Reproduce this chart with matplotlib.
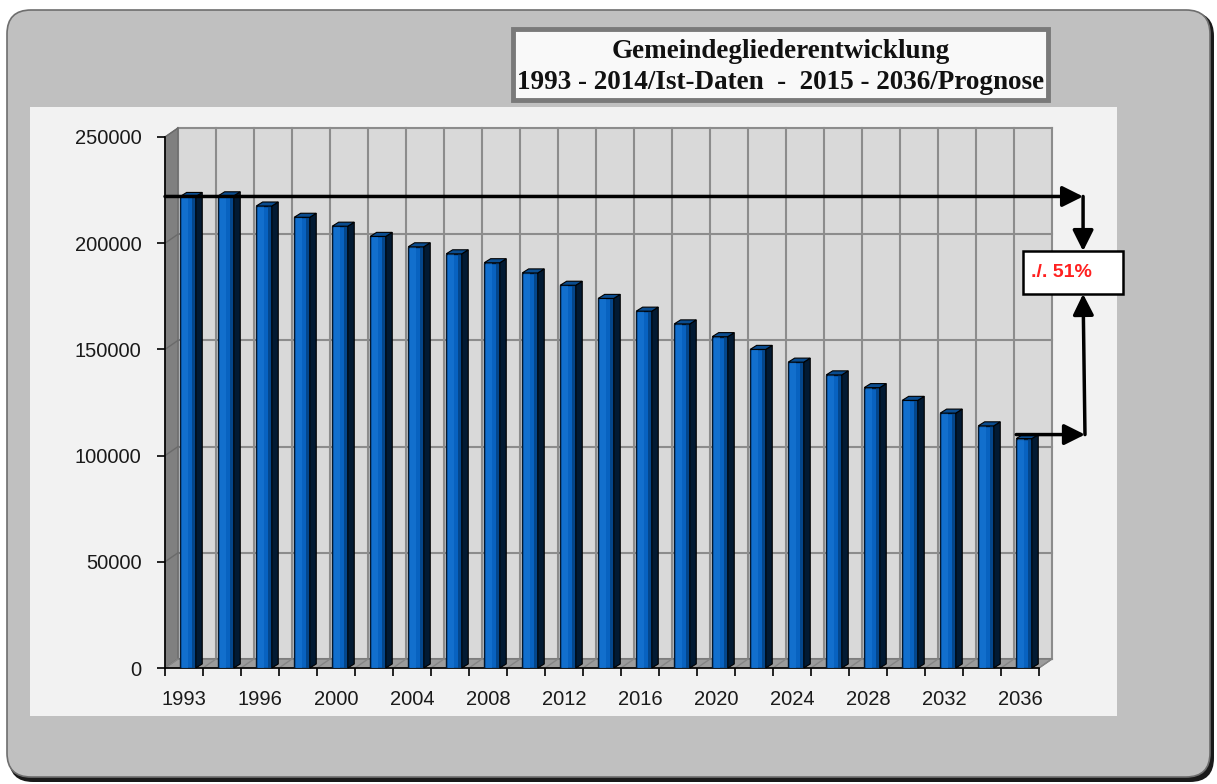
import numpy as np
import matplotlib.pyplot as plt
import matplotlib.transforms as mtransforms
from matplotlib.patches import Polygon, Rectangle, FancyBboxPatch

# Daten (Gemeindeglieder je Jahr)
years = [1993, 1994, 1996, 1998, 2000, 2002, 2004, 2006, 2008, 2010, 2012, 2014,
         2016, 2018, 2020, 2022, 2024, 2026, 2028, 2030, 2032, 2034, 2036]
members = [222000, 222300, 217500, 212200, 208000, 203200, 198300, 195000,
           190800, 186000, 180200, 174000, 168000, 162000, 156000, 150000,
           144000, 138000, 132000, 126000, 120000, 114000, 108000]
y_ticks = [0, 50000, 100000, 150000, 200000, 250000]
title_lines = ["Gemeindegliederentwicklung",
               "1993 - 2014/Ist-Daten  -  2015 - 2036/Prognose"]
change_label = "./. 51%"

W, H = 1217, 784
fig = plt.figure(figsize=(W / 100, H / 100), dpi=100)
fig.patch.set_facecolor("white")
ident = mtransforms.IdentityTransform()


def px_box(x, y, w, h):
    # Pixel-Rechteck (oben links) -> Display-Koordinaten
    return x, H - y - h, w, h


# Rahmen mit abgerundeten Ecken + Schatten
x0, y0, w0, h0 = px_box(9, 12, 1205, 770)
fig.add_artist(FancyBboxPatch((x0, y0), w0, h0, boxstyle="round,pad=0,rounding_size=24",
                              transform=ident, facecolor="#1a1a1a", edgecolor="none", zorder=-3))
x0, y0, w0, h0 = px_box(7, 10, 1203, 767)
fig.add_artist(FancyBboxPatch((x0, y0), w0, h0, boxstyle="round,pad=0,rounding_size=24",
                              transform=ident, facecolor="#c0c0c0", edgecolor="#6e6e6e",
                              linewidth=1.2, zorder=-2))
# heller Diagrammbereich
x0, y0, w0, h0 = px_box(30, 107, 1087, 609)
fig.add_artist(Rectangle((x0, y0), w0, h0, transform=ident, facecolor="#f2f2f2",
                         edgecolor="none", zorder=-1))

# Titelbox
x0, y0, w0, h0 = px_box(513, 29, 535, 71)
fig.add_artist(Rectangle((x0, y0), w0, h0, transform=ident, facecolor="#f9f9f9",
                         edgecolor="#7a7a7a", linewidth=3.5, zorder=3))
fig.text(781 / W, 1 - 67 / H, "\n".join(title_lines), ha="center", va="center",
         fontsize=19.5, fontweight="bold", family="Liberation Serif", color="#111111",
         linespacing=1.3, zorder=4)

ax = fig.add_axes([165 / W, (H - 668) / H, 874 / W, 531 / H])
ax.set_facecolor("none")
n = len(years)
ax.set_xlim(0, n)
ax.set_ylim(0, 250000)

# 3D-Tiefe (Wand) und Balkentiefe in Datenkoordinaten
dx, dy = 0.342, 4240
bdx, bdy = 0.17, 1900
top = y_ticks[-1]

# Rückwand
ax.add_patch(Rectangle((dx, dy), n, top, facecolor="#d9d9d9", edgecolor="#8c8c8c",
                       lw=1.2, zorder=0.5, clip_on=False))
for t in y_ticks:
    ax.plot([dx, n + dx], [t + dy, t + dy], color="#8c8c8c", lw=1.5, zorder=0.6, clip_on=False)
for i in range(n + 1):
    ax.plot([i + dx, i + dx], [dy, top + dy], color="#8c8c8c", lw=1.5, zorder=0.6, clip_on=False)

# Seitenwand links
ax.add_patch(Polygon([(0, 0), (dx, dy), (dx, top + dy), (0, top)], closed=True,
                     facecolor="#808080", edgecolor="#666666", lw=0.8, zorder=0.7, clip_on=False))
for t in y_ticks:
    ax.plot([0, dx], [t, t + dy], color="#6a6a6a", lw=1, zorder=0.75, clip_on=False)

# Boden
ax.add_patch(Polygon([(0, 0), (n, 0), (n + dx, dy), (dx, dy)], closed=True,
                     facecolor="#9c9c9c", edgecolor="#707070", lw=0.8, zorder=0.8, clip_on=False))
for i in range(n + 1):
    ax.plot([i, i + dx], [0, dy], color="#858585", lw=1, zorder=0.85, clip_on=False)

# Balken: Vorderseite über ax.bar, Seite und Deckel als Polygone
x_left = np.arange(n) + 0.40
bar_w = 0.41
bars = ax.bar(x_left, members, width=bar_w, align="edge", color="#0862c0",
              edgecolor="#05192e", linewidth=1, zorder=2)
for rect in bars:
    xl, w, v = rect.get_x(), rect.get_width(), rect.get_height()
    xr = xl + w
    ax.add_patch(Polygon([(xr, 0), (xr + bdx, bdy), (xr + bdx, v + bdy), (xr, v)], closed=True,
                         facecolor="#021a33", edgecolor="#000000", lw=0.8, zorder=2.1, clip_on=False))
    ax.add_patch(Polygon([(xl, v), (xr, v), (xr + bdx, v + bdy), (xl + bdx, v + bdy)], closed=True,
                         facecolor="#0a4c8f", edgecolor="#000000", lw=0.8, zorder=2.2, clip_on=False))
    # etwas Glanz auf der Vorderseite, dunkler zum rechten Rand
    ax.add_patch(Rectangle((xl + w * 0.12, 0), w * 0.4, v, facecolor="#1a78d6",
                           edgecolor="none", alpha=0.6, zorder=2.05))
    ax.add_patch(Rectangle((xl + w * 0.78, 0), w * 0.2, v, facecolor="#04407e",
                           edgecolor="none", alpha=0.8, zorder=2.05))

# Achsen
for s in ["top", "right"]:
    ax.spines[s].set_visible(False)
ax.spines["left"].set_color("black")
ax.spines["bottom"].set_color("black")
ax.spines["left"].set_linewidth(1.2)
ax.spines["bottom"].set_linewidth(1.2)
ax.spines["bottom"].set_zorder(1.9)

ax.set_yticks(y_ticks)
ax.set_yticklabels([str(t) for t in y_ticks])
ax.tick_params(axis="y", direction="out", length=6, width=1.2, pad=11,
               labelsize=14.5, labelcolor="#1a1a1a")
ax.set_xticks(np.arange(n + 1))
ax.set_xticklabels([""] * (n + 1))
ax.tick_params(axis="x", which="major", direction="out", length=6, width=1.2)
label_idx = list(range(0, n, 2))
ax.set_xticks([i + 0.5 for i in label_idx], minor=True)
ax.set_xticklabels([str(years[i]) for i in label_idx], minor=True)
ax.tick_params(axis="x", which="minor", length=0, pad=16, labelsize=14.5, labelcolor="#1a1a1a")
for lab in ax.get_xticklabels(minor=True) + ax.get_yticklabels():
    lab.set_family("Liberation Sans")

# Pfeile für den Rückgang
arrow_x = 24.16
v_first, v_last = members[0], members[-1]
box_lo, box_hi = 176100, 196300
arrow_kw = dict(arrowstyle="-|>,head_length=0.7,head_width=0.35", color="black", lw=2.5,
                shrinkA=0, shrinkB=0, mutation_scale=18)
ax.annotate("", xy=(arrow_x, v_first), xytext=(0, v_first), arrowprops=arrow_kw,
            annotation_clip=False, zorder=4)
ax.annotate("", xy=(arrow_x, box_hi), xytext=(arrow_x, v_first), arrowprops=arrow_kw,
            annotation_clip=False, zorder=4)
ax.annotate("", xy=(arrow_x + 0.05, v_last + bdy), xytext=(x_left[-1], v_last + bdy),
            arrowprops=arrow_kw, annotation_clip=False, zorder=4)
ax.annotate("", xy=(arrow_x, box_lo), xytext=(arrow_x + 0.05, v_last + bdy),
            arrowprops=arrow_kw, annotation_clip=False, zorder=4)

ax.add_patch(Rectangle((22.58, box_lo), 2.63, box_hi - box_lo, facecolor="white",
                       edgecolor="black", lw=1.8, zorder=5, clip_on=False))
ax.text(22.8, (box_lo + box_hi) / 2, change_label, ha="left", va="center", color="#ff2020",
        fontsize=14, fontweight="bold", family="Liberation Sans", zorder=6)

fig.savefig("out.png", dpi=100)
